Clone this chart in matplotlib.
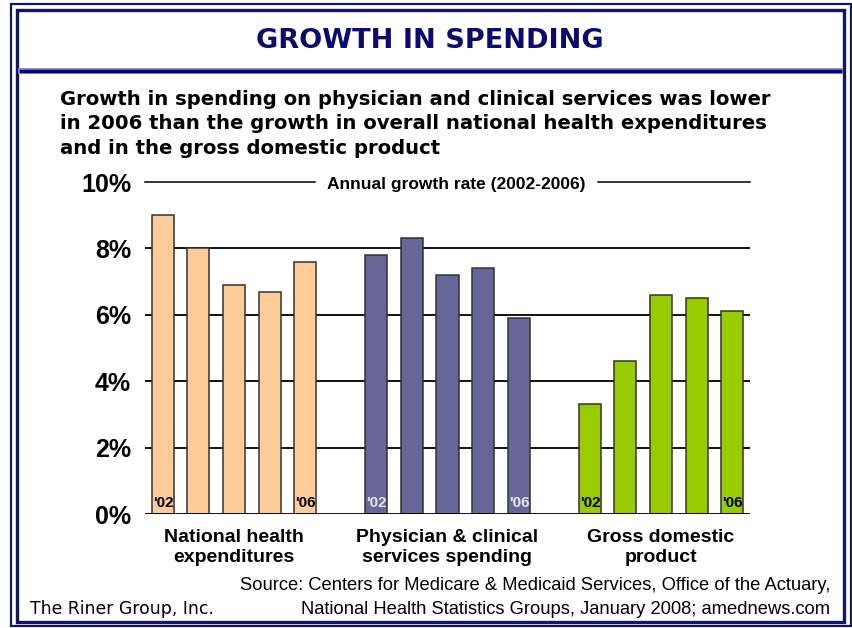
import matplotlib
matplotlib.use("Agg")
import matplotlib.pyplot as plt
from matplotlib.patches import Rectangle
from matplotlib.lines import Line2D

# Annual growth rate (%), 2002-2006
groups = ["National health\nexpenditures",
          "Physician & clinical\nservices spending",
          "Gross domestic\nproduct"]
years = ["'02", "'03", "'04", "'05", "'06"]
nhe = [9.0, 8.0, 6.9, 6.7, 7.6]
physician = [7.8, 8.3, 7.2, 7.4, 5.9]
gdp = [3.3, 4.6, 6.6, 6.5, 6.1]
yticks = [0, 2, 4, 6, 8, 10]
ytick_labels = ["0%", "2%", "4%", "6%", "8%", "10%"]

series = [nhe, physician, gdp]
bar_colors = ["#FFCC99", "#666699", "#99CC00"]
year_label_colors = ["black", "#E4E4F0", "black"]

W, H = 853, 628
fig = plt.figure(figsize=(W / 100, H / 100), dpi=100)
fig.patch.set_facecolor("white")


def fx(x):
    return x / W


def fy(y):
    return 1 - y / H


navy = "#161660"

# double frame
fig.patches.append(Rectangle((fx(11), fy(626)), fx(840), 622 / H, transform=fig.transFigure,
                             fill=False, edgecolor=navy, linewidth=1.6))
fig.patches.append(Rectangle((fx(16.5), fy(622)), fx(828), 612 / H, transform=fig.transFigure,
                             fill=False, edgecolor=navy, linewidth=2.4))

# title and rule under it
fig.text(fx(430), fy(41), "GROWTH IN SPENDING", ha="center", va="center",
         fontsize=19.5, fontweight="bold", color="#0A0A70", family="DejaVu Sans")
fig.add_artist(Line2D([fx(21), fx(840)], [fy(70.5), fy(70.5)], transform=fig.transFigure,
                      color="#8888B8", linewidth=4.2))
fig.add_artist(Line2D([fx(21), fx(840)], [fy(70.5), fy(70.5)], transform=fig.transFigure,
                      color="#000080", linewidth=2.4))

subtitle = ("Growth in spending on physician and clinical services was lower\n"
            "in 2006 than the growth in overall national health expenditures\n"
            "and in the gross domestic product")
fig.text(fx(60), fy(90), subtitle, ha="left", va="top", fontsize=14.1,
         fontweight="bold", color="black", family="DejaVu Sans", linespacing=1.35)

# chart area
ax = fig.add_axes([fx(145), 114 / H, 605 / W, 332 / H])
ax.set_xlim(-0.5, 16.5)
ax.set_ylim(0, 10)
for s in ax.spines.values():
    s.set_visible(False)

for v in yticks[1:-1]:
    ax.axhline(v, color="black", linewidth=1.3, zorder=1)
ax.axhline(0, color="black", linewidth=1.3, zorder=3)
# top rule, interrupted by the caption
ax.plot([-0.5, 4.27], [10, 10], color="black", linewidth=1.1, clip_on=False)
ax.plot([12.23, 16.5], [10, 10], color="black", linewidth=1.1, clip_on=False)
ax.text(8.25, 9.92, "Annual growth rate (2002-2006)", ha="center", va="center",
        fontsize=12.5, fontweight="bold", family="Liberation Sans")

bw = 0.62
for g, vals in enumerate(series):
    xs = [g * 6 + i for i in range(len(vals))]
    ax.bar(xs, vals, width=bw, color=bar_colors[g], edgecolor="#333333",
           linewidth=1.1, zorder=2)
    for i in (0, len(vals) - 1):
        ax.text(xs[i] - bw / 2 + 0.03, 0.33, years[i], ha="left", va="center",
                fontsize=11, fontweight="bold", family="Liberation Sans",
                color=year_label_colors[g], zorder=4)
    ax.text(g * 6 + 2, -0.45, groups[g], ha="center", va="top", fontsize=14,
            fontweight="bold", family="Liberation Sans", linespacing=1.25)

ax.set_xticks([])
ax.set_yticks(yticks)
ax.set_yticklabels(ytick_labels, fontsize=18, fontweight="bold", family="Liberation Sans")
ax.tick_params(axis="y", length=0, pad=10)

# footer
fig.text(fx(830), fy(585), "Source: Centers for Medicare & Medicaid Services, Office of the Actuary,",
         ha="right", va="center", fontsize=13.2, family="Liberation Sans")
fig.text(fx(830), fy(609), "National Health Statistics Groups, January 2008; amednews.com",
         ha="right", va="center", fontsize=13.2, family="Liberation Sans")
fig.text(fx(30), fy(609), "The Riner Group, Inc.", ha="left", va="center",
         fontsize=12.4, family="DejaVu Sans")

fig.savefig("out.png", dpi=100, facecolor="white")
